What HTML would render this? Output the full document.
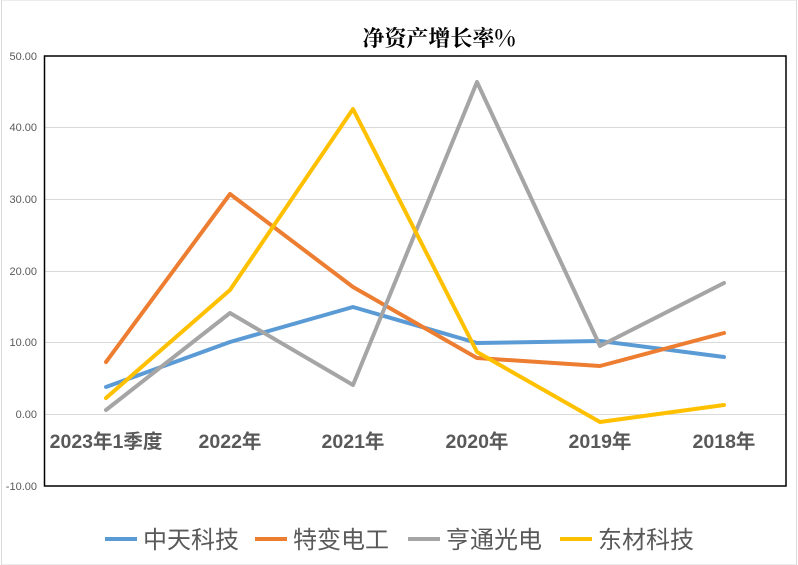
<!DOCTYPE html>
<html><head><meta charset="utf-8"><style>
body{margin:0;background:#fff;}
svg{display:block}
</style></head><body>
<svg width="798" height="565" xmlns="http://www.w3.org/2000/svg">
<rect x="0" y="0" width="798" height="565" fill="#fff"/>
<rect x="1.5" y="0" width="795" height="565" fill="none" stroke="#d9d9d9" stroke-width="1"/>
<text x="439" y="46" text-anchor="middle" font-family="Noto Serif CJK SC, serif" font-weight="bold" font-size="22" fill="#000">净资产增长率%</text>
<g stroke="#d9d9d9" stroke-width="1">
<line x1="45" x2="786" y1="127.5" y2="127.5"/>
<line x1="45" x2="786" y1="199.5" y2="199.5"/>
<line x1="45" x2="786" y1="271.5" y2="271.5"/>
<line x1="45" x2="786" y1="342.5" y2="342.5"/>
<line x1="45" x2="786" y1="414.5" y2="414.5"/>
</g>
<rect x="44.5" y="56" width="741.5" height="430" fill="none" stroke="#000" stroke-width="1.5"/>
<g font-family="Liberation Sans, sans-serif" font-size="11" fill="#595959" text-anchor="end">
<text x="37" y="60">50.00</text>
<text x="37" y="131">40.00</text>
<text x="37" y="203">30.00</text>
<text x="37" y="275">20.00</text>
<text x="37" y="346">10.00</text>
<text x="37" y="418">0.00</text>
<text x="37" y="490">-10.00</text>
</g>
<g font-family="Liberation Sans, Noto Sans CJK SC, sans-serif" font-size="19.5" font-weight="bold" fill="#595959" text-anchor="middle">
<text x="106" y="448">2023年1季度</text>
<text x="230" y="448">2022年</text>
<text x="353" y="448">2021年</text>
<text x="477" y="448">2020年</text>
<text x="600" y="448">2019年</text>
<text x="724" y="448">2018年</text>
</g>
<g fill="none" stroke-width="4" stroke-linejoin="round" stroke-linecap="round">
<polyline stroke="#5B9BD5" points="106,387 230,342 353,307 477,343 600,341 724,357"/>
<polyline stroke="#ED7D31" points="106,362 230,194 353,287 477,358 600,366 724,333"/>
<polyline stroke="#A5A5A5" points="106,410 230,313 353,385 477,82 600,346 724,283"/>
<polyline stroke="#FFC000" points="106,398 230,290 353,109 477,352 600,422 724,405"/>
</g>
<g stroke-width="4">
<line x1="105" x2="137" y1="539" y2="539" stroke="#5B9BD5"/>
<line x1="255" x2="287" y1="539" y2="539" stroke="#ED7D31"/>
<line x1="408" x2="440" y1="539" y2="539" stroke="#A5A5A5"/>
<line x1="560" x2="592" y1="539" y2="539" stroke="#FFC000"/>
</g>
<g font-family="Noto Sans CJK SC, sans-serif" font-size="24" fill="#595959">
<text x="143" y="548">中天科技</text>
<text x="293" y="548">特变电工</text>
<text x="446" y="548">亨通光电</text>
<text x="598" y="548">东材科技</text>
</g>
</svg>
</body></html>
